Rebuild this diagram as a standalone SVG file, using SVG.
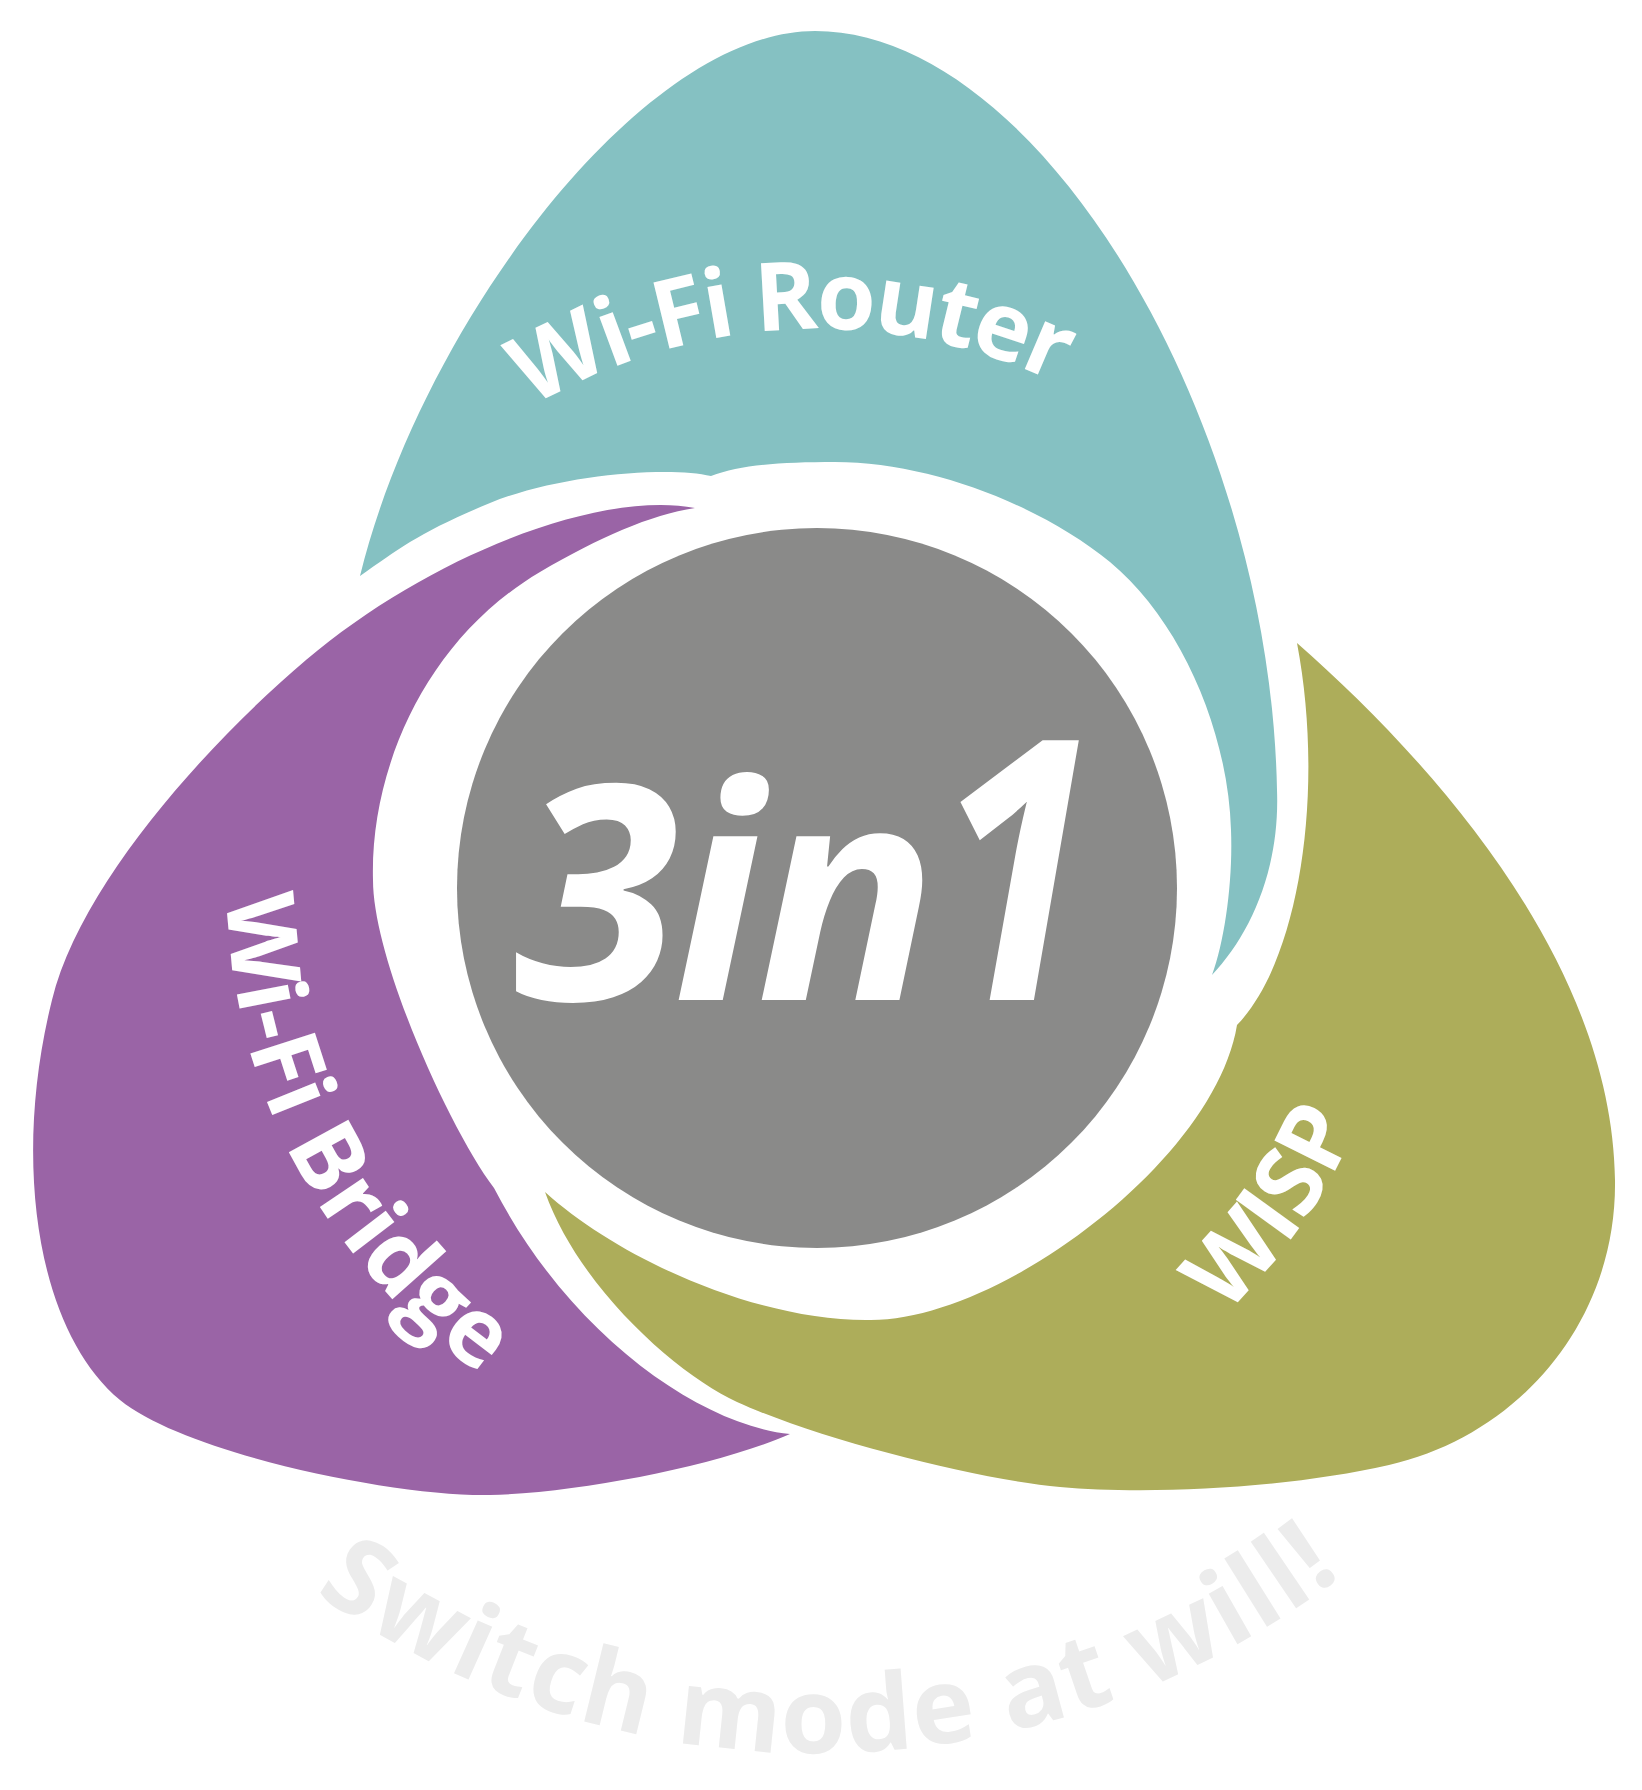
<svg xmlns="http://www.w3.org/2000/svg" width="1642" height="1790" viewBox="0 0 1642 1790">
<style>
.lbl{font-family:"Open Sans","Liberation Sans",sans-serif;font-weight:700;fill:#ffffff}
.big{font-family:"Open Sans","Liberation Sans",sans-serif;font-weight:700;font-style:italic;fill:#ffffff}
.sub{font-family:"Open Sans","Liberation Sans",sans-serif;font-weight:700;fill:#ececec}
</style>
<defs>
<path id="arcRouter" d="M 319.8 632.5 A 559 559 0 0 1 1286.9 585.2"/>
<path id="arcBridge" d="M 311 585 A 592 592 0 0 0 786 1479.6"/>
<path id="arcWisp" d="M 765.6 1475.8 A 590 590 0 0 0 1351.7 638.7"/>
<path id="arcSwitch" d="M -14.5 1126.4 A 865 865 0 0 0 1656.3 1097.3"/>
</defs>
<rect width="1642" height="1790" fill="#ffffff"/>
<g id="router">
<path fill="#85c1c2" d="M 815 31 C 1040 31 1270 420 1277 790 C 1280 870 1250 935 1212 975 C 1225 940 1233 880 1231 830 C 1228 730 1180 620 1110 562 C 1040 505 930 462 835 462 C 780 462 740 465 711 476 C 670 466 560 474 490 503 S 400 548 360 576 C 420 330 640 31 815 31 Z"/>
<text class="lbl" font-size="95" letter-spacing="-3"><textPath href="#arcRouter" startOffset="50%" text-anchor="middle">Wi-Fi Router</textPath></text>
</g>
<g id="bridge">
<path fill="#9a64a6" d="M 695 508 C 600 490 430 555 306 660 C 207 744 80 885 52 1000 C 12 1160 36 1330 120 1400 C 187.6 1455 400 1497 490 1495 C 580 1493 720 1465 790 1434 C 700 1425 570 1335 494 1188 C 450 1130 373 960 373 880 C 370 770 425 640 540 572 C 600 537 650 515 695 508 Z"/>
<text class="lbl" font-size="95" letter-spacing="0"><textPath href="#arcBridge" startOffset="50%" text-anchor="middle">Wi-Fi Bridge</textPath></text>
</g>
<g id="wisp">
<path fill="#adad5a" d="M 1297 643 C 1430 760 1612 960 1615 1180 C 1617 1320 1520 1435 1389 1465 C 1289 1488 1150 1495 1060 1487 C 980 1480 820 1440 737 1402 C 680 1376 580 1290 545 1192 C 620 1260 760 1322 871 1320 C 1000 1320 1215 1160 1237 1025 C 1300 960 1325 790 1297 643 Z"/>
<text class="lbl" font-size="95" letter-spacing="-1"><textPath href="#arcWisp" startOffset="50%" text-anchor="middle">WISP</textPath></text>
</g>
<g id="center">
<circle cx="817" cy="888" r="360" fill="#8a8a89"/>
<text class="big" x="514" y="1000" font-size="300" letter-spacing="-6">3in</text>
<text class="big" x="0" y="0" font-size="350" transform="translate(934 1000) scale(0.85 1.04)">1</text>
</g>
<g id="tagline">
<text class="sub" font-size="106" letter-spacing="2"><textPath href="#arcSwitch" startOffset="50%" text-anchor="middle">Switch mode at will!</textPath></text>
</g>
<g id="connectors"></g>
</svg>
